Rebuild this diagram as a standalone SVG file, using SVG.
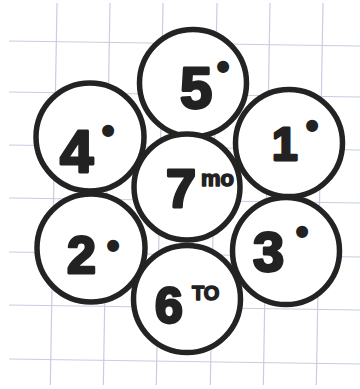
<svg xmlns="http://www.w3.org/2000/svg" width="360" height="389" viewBox="0 0 360 389">
<style>
.grid{stroke:#cbcbe2;stroke-width:1.2;fill:none}
.ring{fill:#fff;stroke:#232323;stroke-width:5.5}
.num{font-family:"Liberation Sans","DejaVu Sans",sans-serif;font-weight:bold;fill:#222;stroke:#222;stroke-width:2.8;stroke-linejoin:round}
.dot{font-family:"Liberation Sans","DejaVu Sans",sans-serif;font-weight:bold;fill:#222;font-size:42px;text-anchor:middle}
.sup{font-family:"Liberation Sans","DejaVu Sans",sans-serif;font-weight:bold;fill:#222;stroke:#222;stroke-width:1.5;stroke-linejoin:round}
</style>
<rect width="360" height="389" fill="#fff"/>
<g id="grid">
<path class="grid" d="M9 41L360 46M9 92L360 97M9 145L360 150M9 198L360 203M9 252L360 257M9 305L360 310M9 359L360 364"/>
<path class="grid" d="M57 3L50.3 385M110 3L103.3 385M163 3L156.3 385M217 3L210.3 385M270 3L263.3 385M323 3L316.3 385"/>
</g>
<g id="connectors"/>
<g id="n5"><circle class="ring" cx="193" cy="83" r="53.5"/><text class="num" x="180" y="108" font-size="58">5</text><text class="dot" x="223" y="81">•</text></g>
<g id="n4"><circle class="ring" cx="90" cy="137" r="54"/><text class="num" x="60" y="172" font-size="60">4</text><text class="dot" x="108" y="145">•</text></g>
<g id="n1"><circle class="ring" cx="289" cy="143" r="53.5"/><text class="num" x="272" y="160" font-size="46">1</text><text class="dot" x="312" y="140">•</text></g>
<g id="n7"><circle class="ring" cx="187" cy="187" r="53"/><text class="num" x="166" y="207" font-size="54">7</text><text class="sup" x="201" y="186" font-size="22">mo</text></g>
<g id="n2"><circle class="ring" cx="91" cy="248" r="54"/><text class="num" x="67" y="273" font-size="52">2</text><text class="dot" x="113" y="260">•</text></g>
<g id="n3"><circle class="ring" cx="286" cy="251" r="53.5"/><text class="num" x="253" y="271" font-size="56">3</text><text class="dot" x="302" y="246">•</text></g>
<g id="n6"><circle class="ring" cx="187" cy="299" r="53.5"/><text class="num" x="155" y="323" font-size="50">6</text><text class="sup" x="192" y="300" font-size="20">TO</text></g>
</svg>
